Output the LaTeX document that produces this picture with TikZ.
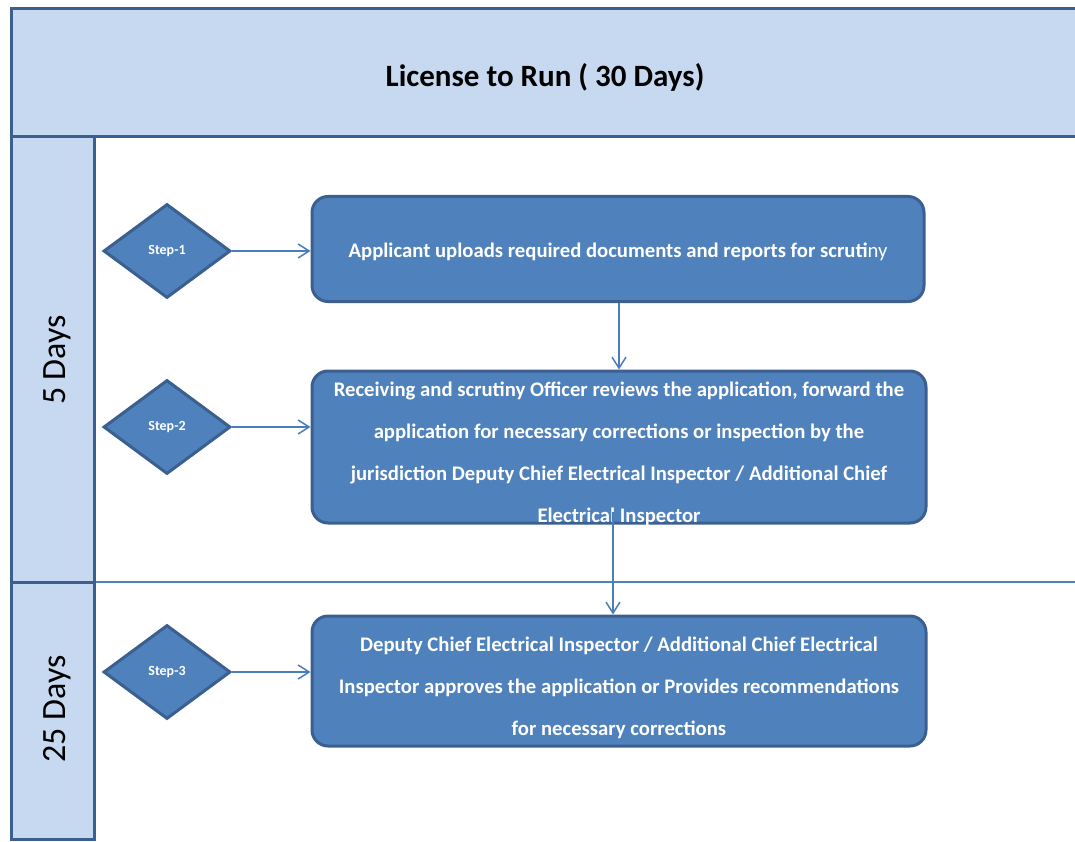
\documentclass[tikz,border=0pt]{standalone}
\usepackage{fontspec}
\setmainfont{Carlito}
\usetikzlibrary{shapes.geometric,arrows.meta}
\definecolor{hdrfill}{HTML}{C6D9F0}
\definecolor{darkline}{HTML}{3B5F8F}
\definecolor{boxfill}{HTML}{4F81BD}
\definecolor{arrcol}{HTML}{4A7EBB}
\tikzset{
  lanebox/.style={draw=darkline,line width=3pt,fill=hdrfill},
  stepdia/.style={diamond,draw=darkline,line width=3pt,fill=boxfill,minimum width=127pt,minimum height=94pt,inner sep=0pt,text=white,font=\fontsize{14}{16}\selectfont\bfseries},
  procbox/.style={draw=darkline,line width=3pt,fill=boxfill,rounded corners=16pt,inner sep=0pt},
  boxtext/.style={text=white,align=center,inner sep=0pt,font=\fontsize{20.7}{42}\selectfont\bfseries},
  arr/.style={draw=arrcol,line width=1.5pt,-{Straight Barb[length=11pt,width=14pt,line width=1.5pt]}},
  lanelbl/.style={rotate=90,font=\fontsize{34}{36}\selectfont},
}
\begin{document}
\begin{tikzpicture}[x=1pt,y=-1pt]
\useasboundingbox (0,0) rectangle (1075,842);
\clip (0,0) rectangle (1075,842);
% header
\draw[lanebox] (1090,9) -- (11,9) -- (11,137) -- (1090,137);
\node[font=\fontsize{31}{33}\selectfont\bfseries] (title) at (545,77) {License to Run ( 30 Days)};
% separator
\draw[draw=boxfill,line width=2pt] (94,582) -- (1090,582);
% lanes
\draw[lanebox] (11,137) rectangle (94,582);
\draw[lanebox] (11,582) rectangle (94,839);
\node[lanelbl] (l1) at (57,360) {5 Days};
\node[lanelbl] (l2) at (57,709) {25 Days};
% diamonds
\node[stepdia] (s1) at (167,251) {Step-1};
\node[stepdia] (s2) at (167,427) {Step-2};
\node[stepdia] (s3) at (167,672) {Step-3};
% boxes
\node[procbox,minimum width=612pt,minimum height=105pt] (b1) at (618,249) {};
\node[procbox,minimum width=614pt,minimum height=152pt] (b2) at (619,447) {};
\node[procbox,minimum width=614pt,minimum height=130pt] (b3) at (619,681) {};
\node[boxtext] (t1) at ([yshift=-3pt]b1.center) {Applicant uploads required documents and reports for scruti{\mdseries ny}};
\node[boxtext] (t2) at ([yshift=-7pt]b2.center) {Receiving and scrutiny Officer reviews the application, forward the\\application for necessary corrections or inspection by the\\jurisdiction Deputy Chief Electrical Inspector / Additional Chief\\Electrical Inspector};
\node[boxtext] (t3) at ([yshift=-7pt]b3.center) {Deputy Chief Electrical Inspector / Additional Chief Electrical\\Inspector approves the application or Provides recommendations\\for necessary corrections};
% arrows
\draw[arr] (s1.east) -- (b1.west |- s1.east);
\draw[arr] (s2.east) -- (b2.west |- s2.east);
\draw[arr] (s3.east) -- (b3.west |- s3.east);
\draw[arr] ([xshift=1pt]b1.south) -- ([xshift=0pt]b2.north);
\draw[arr] ([xshift=-6pt,yshift=13pt]b2.south) -- ([xshift=-6pt]b3.north);
\end{tikzpicture}
\end{document}
